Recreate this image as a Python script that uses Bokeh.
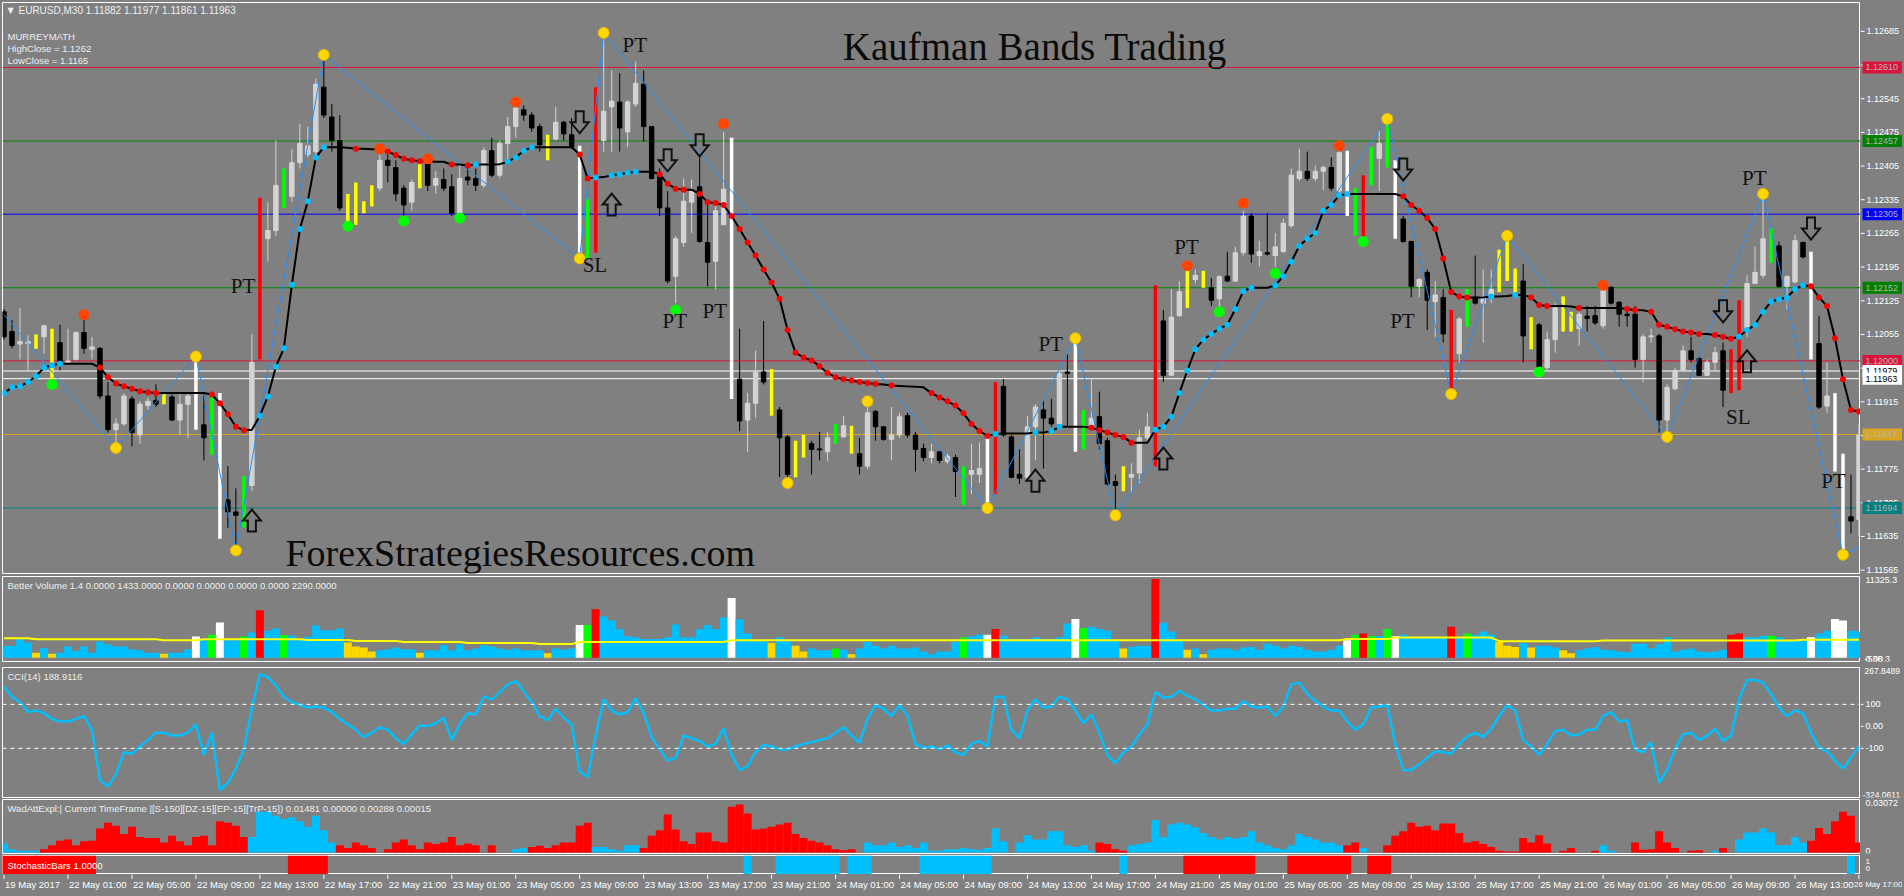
from bokeh.plotting import figure
from bokeh.models import Range1d, Label, LabelSet, ColumnDataSource, Span
from bokeh.layouts import column, row
from bokeh.embed import file_html
from bokeh.resources import INLINE
from bokeh.core.properties import value

# ---------------- DATA (EURUSD M30, prices in points above 1.10000; 1 point = 0.00001) -------------
BASE = 1.10000
PNT = 0.00001

o_pts = [2102,2061,2035,2036,2029,2050,2060,2038,1997,2003,
         2059,2024,2026,1927,1857,1869,1921,1846,1907,1918,
         1912,1925,1877,1910,1927,1867,1840,1920,1711,1686,
         1679,1741,2003,2254,2271,2365,2342,2412,2429,2435,
         2569,2507,2458,2318,2300,2320,2325,2359,2417,2402,
         2359,2330,2371,2412,2365,2377,2362,2307,2382,2379,
         2365,2437,2386,2452,2487,2522,2511,2487,2449,2461,
         2496,2470,2444,2240,2330,2458,2528,2538,2476,2534,
         2575,2487,2386,2318,2176,2246,2330,2362,2246,2207,
         2283,2357,1962,1877,1912,1977,1956,1898,1842,1764,
         1828,1828,1817,1811,1840,1842,1865,1807,1781,1895,
         1863,1837,1846,1886,1846,1818,1799,1811,1791,1799,
         1770,1764,1764,1776,1840,1947,1842,1764,1758,1863,
         1898,1881,1869,1977,1974,1880,1863,1884,1834,1749,
         1741,1758,1767,1840,1863,2083,1970,2094,2144,2169,
         2178,2152,2129,2176,2166,2225,2301,2219,2225,2219,
         2227,2281,2379,2394,2379,2394,2402,2353,2433,2310,
         2350,2370,2421,2452,2410,2295,2248,2155,2184,2123,
         2132,2056,2015,2087,2132,2120,2132,2149,2180,2180,
         2166,2052,2075,1986,2044,2110,2080,2067,2093,2094,
         2073,2153,2122,2097,2097,2003,2050,2052,1877,1942,
         1980,2021,2005,1970,1997,2021,1939,2010,2067,2161,
         2178,2254,2239,2155,2164,2246,2216,2036,1906,1927,
         1790,1676,1670]
h_pts = [2108,2085,2110,2053,2055,2075,2067,2075,2067,2061,
         2085,2050,2029,1956,1881,1933,1927,1916,1924,1951,
         1933,1930,1931,1933,2003,1933,1933,1933,1781,1735,
         1760,2056,2339,2330,2458,2400,2441,2493,2487,2587,
         2633,2534,2511,2347,2371,2332,2365,2429,2429,2417,
         2365,2377,2414,2429,2394,2400,2388,2412,2412,2400,
         2444,2464,2458,2507,2540,2531,2517,2493,2470,2528,
         2499,2505,2447,2336,2569,2680,2604,2598,2542,2622,
         2604,2487,2400,2353,2260,2379,2377,2423,2330,2327,
         2476,2464,2067,1933,2021,2083,1983,1904,1846,1834,
         1846,1834,1852,1852,1869,1886,1865,1840,1904,1898,
         1863,1904,1892,1892,1852,1828,1828,1811,1807,1805,
         1781,1828,1830,1846,1956,1962,1846,1816,1886,1910,
         1916,1921,1980,2015,2050,1898,1962,1936,1840,1764,
         1781,1787,1857,1892,2157,2106,2149,2166,2196,2190,
         2187,2172,2178,2227,2237,2312,2307,2250,2307,2266,
         2295,2400,2441,2435,2406,2406,2423,2437,2437,2359,
         2386,2444,2479,2496,2417,2301,2250,2172,2190,2166,
         2149,2106,2091,2149,2219,2190,2190,2231,2250,2192,
         2201,2091,2079,2061,2120,2134,2102,2102,2114,2114,
         2161,2155,2124,2102,2114,2056,2067,2056,1951,1986,
         2032,2050,2009,2003,2029,2038,2024,2126,2178,2237,
         2347,2277,2248,2178,2262,2248,2227,2094,1997,1933,
         1807,1764,1869]
l_pts = [2044,2026,2003,1980,2025,2015,1945,1980,1997,2001,
         2015,2003,1921,1851,1816,1865,1822,1828,1898,1904,
         1910,1875,1846,1840,1857,1793,1805,1630,1653,1612,
         1653,1729,2003,2207,2260,2318,2330,2400,2423,2423,
         2505,2435,2312,2277,2283,2307,2321,2353,2371,2332,
         2301,2312,2359,2353,2347,2353,2301,2301,2365,2353,
         2359,2382,2380,2417,2464,2499,2476,2435,2417,2458,
         2458,2441,2225,2213,2225,2435,2435,2435,2444,2528,
         2456,2377,2301,2161,2120,2237,2266,2246,2155,2149,
         2283,1921,1854,1811,1881,1951,1886,1758,1758,1758,
         1799,1764,1793,1791,1828,1840,1807,1764,1775,1834,
         1834,1793,1840,1840,1770,1791,1787,1787,1786,1717,
         1700,1723,1746,1694,1723,1842,1756,1744,1756,1793,
         1776,1863,1863,1863,1811,1816,1857,1816,1741,1682,
         1729,1726,1746,1834,1781,1956,1968,2091,2110,2161,
         2152,2114,2110,2164,2164,2219,2204,2196,2219,2196,
         2225,2277,2374,2374,2374,2355,2353,2347,2301,2260,
         2242,2365,2353,2402,2254,2246,2132,2132,2064,2050,
         2038,1933,1997,2071,2117,2038,2120,2143,2166,2137,
         1997,2024,1977,1980,2017,2061,2061,2032,2061,2075,
         2067,2117,2071,2071,1986,1956,2038,1851,1842,1939,
         1977,1997,1968,1968,1980,1904,1933,1939,2050,2161,
         2172,2204,2152,2108,2161,2213,2003,1900,1892,1770,
         1600,1641,1635]
c_pts = [2050,2032,2040,2040,2052,2073,2038,1997,2000,2059,
         2026,2029,1927,1857,1869,1927,1851,1910,1916,1910,
         1930,1877,1910,1927,1990,1840,1920,1711,1686,1679,
         1741,1997,2330,2271,2365,2342,2412,2452,2447,2575,
         2511,2458,2318,2300,2360,2325,2359,2417,2406,2347,
         2324,2371,2412,2365,2379,2359,2307,2379,2376,2365,
         2437,2386,2452,2487,2526,2511,2484,2449,2460,2496,
         2472,2444,2240,2330,2458,2519,2540,2484,2538,2577,
         2487,2379,2318,2166,2254,2332,2353,2248,2205,2312,
         2357,1962,1875,1912,1977,1956,1898,1840,1764,1828,
         1817,1816,1815,1840,1842,1865,1807,1781,1892,1863,
         1837,1846,1884,1846,1816,1799,1811,1793,1802,1770,
         1764,1772,1776,1840,1947,1846,1758,1756,1863,1904,
         1881,1869,1974,1974,1880,1863,1881,1828,1744,1741,
         1758,1764,1840,1863,2083,1970,2091,2144,2169,2178,
         2152,2126,2175,2166,2225,2301,2222,2227,2222,2237,
         2286,2386,2394,2379,2394,2402,2359,2433,2310,2350,
         2260,2440,2452,2410,2295,2248,2155,2169,2126,2137,
         2056,2015,2087,2132,2120,2134,2149,2180,2180,2166,
         2052,2075,1980,2044,2110,2080,2067,2097,2088,2079,
         2155,2120,2097,2094,2003,2050,2052,1877,1945,1980,
         2021,2003,1970,1997,2017,1939,2010,2067,2161,2184,
         2254,2239,2155,2175,2250,2216,2036,1904,1927,1790,
         1676,1667,1846]
kama_pts = [1933,1945,1947,1956,1968,1986,1991,1994,1994,1994,
            1994,1994,1986,1966,1953,1947,1942,1937,1935,1933,
            1933,1933,1933,1933,1933,1933,1930,1912,1889,1863,
            1856,1857,1886,1926,1988,2026,2158,2274,2332,2423,
            2444,2444,2444,2443,2441,2441,2440,2440,2435,2428,
            2420,2417,2415,2415,2414,2414,2408,2408,2406,2408,
            2408,2408,2409,2414,2423,2437,2444,2444,2444,2444,
            2444,2444,2429,2379,2381,2382,2386,2388,2391,2393,
            2393,2393,2388,2368,2358,2356,2356,2347,2330,2328,
            2324,2301,2274,2246,2219,2190,2163,2129,2064,2017,
            2007,2001,1989,1975,1966,1962,1959,1956,1954,1952,
            1951,1949,1948,1947,1946,1945,1933,1924,1916,1907,
            1891,1869,1854,1844,1848,1849,1849,1849,1849,1851,
            1851,1854,1863,1863,1863,1863,1861,1856,1851,1846,
            1842,1830,1830,1830,1857,1863,1884,1933,1980,2024,
            2044,2056,2067,2075,2108,2145,2152,2152,2152,2157,
            2176,2206,2239,2254,2266,2312,2324,2344,2347,2347,
            2347,2347,2347,2347,2347,2342,2324,2312,2297,2274,
            2213,2143,2134,2132,2132,2132,2134,2134,2135,2137,
            2137,2132,2116,2114,2114,2114,2113,2110,2110,2110,
            2110,2110,2110,2108,2106,2105,2102,2075,2071,2066,
            2061,2059,2056,2056,2054,2050,2046,2050,2064,2075,
            2102,2123,2128,2132,2149,2157,2155,2132,2114,2047,
            1962,1898,1895]

# bars painted by Better Volume (also colour of the volume histogram)
mark_yellow = [4,6,20,43,44,45,46,52,68,96,99,100,106,140,148,150,187,188,189,191,195,196]
mark_green = [26,30,35,73,104,120,135,169,171,173,183,221]
mark_red = [32,74,124,144,170,181,216,217]
mark_white = [24,27,72,91,123,134,168,174,226,229,230]

volume = [1640,1640,2560,2100,700,1300,560,700,1540,940,
          1540,700,2240,1860,1540,1540,1160,1020,700,700,
          560,700,700,1160,2940,2420,3180,4900,2420,2420,
          2940,3500,6620,3740,4060,3120,3040,2560,2900,4480,
          3820,3820,4060,2100,1540,1400,840,1020,1160,1400,
          1160,1160,700,1020,1020,1720,1020,1820,1020,1260,
          1720,1540,1260,1100,1260,1020,1020,1020,630,1260,
          1100,1260,4560,4560,6760,5740,5190,4010,2990,2830,
          2600,2600,2600,2830,4640,2830,2830,4010,4560,4010,
          5590,8330,5350,3380,2280,2280,2040,2830,2280,1650,
          860,1260,1020,1020,1260,1100,470,1260,2200,1650,
          1260,1650,1260,1260,1410,860,470,860,860,2200,
          2830,2990,3200,3200,4010,3060,2600,2600,2600,2830,
          2600,2600,2830,4750,5400,4120,4300,4010,3770,2440,
          1260,1480,1650,1650,10960,4860,3660,2440,1100,1260,
          470,1100,1260,1260,1020,1410,1480,1100,1930,1650,
          1260,1650,1480,1100,860,860,1100,1650,2440,3200,
          3380,2990,2990,4010,2990,3200,2830,2830,2830,2830,
          2830,4300,2830,3380,3200,3660,3200,2200,1650,1480,
          2040,1410,1650,1650,1410,1020,630,1020,1260,1480,
          1100,1020,860,750,1930,1930,1260,1860,2830,860,
          1100,1260,860,750,860,1100,3200,3380,2830,2830,
          3060,3060,2830,2440,2440,2440,2830,3380,3770,5400,
          5190,3770,3660]
vol_avg_from = [0,4,20,25,38,44,50,58,67,72,91,168,174,187,200,225]
vol_avg_val = [2700,2560,2420,2560,2470,2330,2190,2040,1890,2200,2440,2590,2800,2300,2400,2500]

cci = [181,135,110,65,72,60,34,22,22,34,47,-16,-244,-274,-219,-118,-125,-92,-62,-29,
       -29,-42,-42,-29,9,-130,-29,-290,-257,-193,-105,85,237,224,186,135,110,97,85,90,
       85,65,34,9,-16,-49,-29,-4,-16,-54,-80,-37,4,1,14,39,-62,9,
       60,54,135,123,156,191,206,161,110,47,27,80,39,9,-206,-231,-42,123,72,54,
       65,128,60,-49,-105,-156,-143,-42,-54,-67,-92,-80,-9,-130,-199,-181,-118,-85,-92,-105,
       -105,-92,-80,-72,-62,-54,-29,-4,-42,-75,34,97,80,47,97,47,-80,-97,
       -92,-105,-87,-118,-130,-80,-67,-92,135,135,-16,-54,72,123,85,90,135,123,72,14,
       54,-29,-130,-168,-118,-92,-37,9,156,130,135,161,140,123,97,72,72,80,80,115,
       90,85,90,47,90,191,199,148,115,90,72,72,22,-16,9,85,90,97,
       -80,-199,-199,-173,-143,-113,-118,-125,-80,-47,-29,-49,-11,47,97,72,-62,-92,-130,-80,
       -21,-16,-42,-37,-16,-16,47,65,22,29,-105,-118,-72,-257,-199,-105,-37,-29,-62,-42,
       -11,-67,-42,123,211,211,199,148,85,47,72,60,-29,-97,-113,-156,-193,-143,-92]

wad = [.0056,.0021,.0011,.0011,.0011,.0021,.0046,.0074,.0081,.0046,
       .0070,.0074,.0151,.0186,.0168,.0116,.0161,.0098,.0091,.0091,
       .0063,.0105,.0070,.0046,.0098,.0105,.0046,.0196,.0186,.0168,
       .0098,.0098,.0256,.0256,.0231,.0210,.0221,.0196,.0161,.0231,
       .0140,.0063,.0046,.0028,.0063,.0046,.0028,0,.0021,.0063,
       .0081,.0046,.0021,.0063,.0053,.0063,.0098,.0046,.0056,.0046,
       0,.0046,0,0,.0021,.0028,.0035,.0042,.0028,.0046,
       .0063,.0063,.0168,.0186,.0035,.0035,.0021,.0011,.0046,.0046,
       .0028,.0105,.0140,.0238,.0144,.0070,.0053,.0126,.0126,.0070,
       .0063,.0287,.0301,.0245,.0144,.0151,.0161,.0175,.0186,.0116,
       .0091,.0074,.0063,.0046,.0021,.0014,.0021,0,.0063,.0046,
       .0046,.0063,.0035,.0046,.0028,.0063,.0011,.0011,.0021,.0021,
       .0028,.0021,.0018,.0028,.0151,.0070,0,.0063,.0109,.0081,
       .0081,.0133,.0133,.0046,.0035,.0046,.0011,.0063,.0053,.0021,
       .0011,.0046,.0053,.0063,.0203,.0098,.0175,.0186,.0175,.0158,
       .0123,.0098,.0081,.0098,.0088,.0098,.0133,.0063,.0046,.0028,
       .0021,.0046,.0116,.0098,.0081,.0063,.0063,.0046,.0046,.0063,
       .0028,0,0,.0046,.0105,.0133,.0186,.0161,.0168,.0140,
       .0182,.0182,.0123,.0063,.0070,.0053,.0035,.0011,.0007,.0007,
       .0091,.0063,.0109,.0056,0,.0011,.0028,0,0,.0011,
       .0046,.0011,0,0,.0063,.0018,.0021,.0133,.0063,.0028,
       0,.0011,.0014,0,.0011,.0028,0,.0081,.0126,.0126,
       .0151,.0126,.0046,.0046,.0098,.0063,.0074,.0154,.0116,.0196,
       .0256,.0231,.0063]
wad_up_spans = [(0,4),(31,41),(64,65),(74,79),(108,125),(127,136),(141,167),(170,170),(200,201),(214,214),(217,225)]

stoch_red_spans = [(0,11),(36,40),(148,156),(161,168),(171,173)]
stoch_blue_spans = [(93,93),(97,104),(106,108),(115,123),(140,140),(231,231)]

zz_bar = [0,14,24,29,40,72,75,123,134,139,173,181,188,208,220,230,232]
zz_pts = [2096,1819,2009,1606,2636,2213,2682,1694,2047,1679,2503,1931,2260,1842,2347,1597,1612]
yellow_bar = [14,24,29,40,72,75,98,108,123,134,139,173,181,188,208,220,230]
yellow_pts = [1819,2009,1606,2636,2213,2682,1746,1916,1694,2047,1679,2503,1931,2260,1842,2347,1597]
orange_bar = [10,47,53,64,90,148,155,167,200]
orange_pts = [2096,2441,2420,2538,2493,2198,2328,2447,2157]
green_bar = [6,43,50,57,84,152,159,170,192]
green_pts = [1951,2280,2291,2297,2106,2102,2182,2248,1977]
arrow_dn_bar = [72,83,87,175,215,226]
arrow_dn_pts = [2496,2417,2448,2398,2103,2275]
arrow_up_bar = [31,76,129,145,218]
arrow_up_pts = [1668,2325,1751,1797,1999]
sig_text = ["PT","PT","SL","PT","PT","PT","PT","PT","PT","SL","PT"]
sig_bar = [29.9,78.9,73.9,83.9,88.9,130.9,147.9,174.9,218.9,216.9,228.8]
sig_pts = [2155,2656,2200,2082,2103,2036,2236,2082,2381,1884,1751]

murrey_levels = [1.12610,1.12457,1.12305,1.12152,1.12000,1.11979,1.11963,1.11847,1.11694]
murrey_colors = ["#dc143c","#008000","#0000ff","#008000","#dc143c","#ffffff","#ffffff","#daa520","#008080"]
price_ticks = [1.12685,1.12615,1.12545,1.12475,1.12405,1.12335,1.12265,1.12195,1.12125,
               1.12055,1.11985,1.11915,1.11845,1.11775,1.11705,1.11635,1.11565]
time_labels = ["19 May 2017",
               "22 May 01:00","22 May 05:00","22 May 09:00","22 May 13:00","22 May 17:00","22 May 21:00",
               "23 May 01:00","23 May 05:00","23 May 09:00","23 May 13:00","23 May 17:00","23 May 21:00",
               "24 May 01:00","24 May 05:00","24 May 09:00","24 May 13:00","24 May 17:00","24 May 21:00",
               "25 May 01:00","25 May 05:00","25 May 09:00","25 May 13:00","25 May 17:00","25 May 21:00",
               "26 May 01:00","26 May 05:00","26 May 09:00","26 May 13:00","26 May 17:00"]

# ---------------- STYLE ----------------
BG = "#808080"
FONT = "Liberation Sans"
SERIF = "Liberation Serif"
FW = 1858          # width of the chart frames
SW = 42            # width of the price-scale strip at the right
LB = 2             # left border
MAIN_H = 571
BULL = "#d3d3d3"
BEAR = "#000000"
SKY = "#00bfff"

N = len(c_pts)
X = list(range(N))
pr = lambda v: BASE + v * PNT
o = [pr(v) for v in o_pts]; h = [pr(v) for v in h_pts]
l = [pr(v) for v in l_pts]; c = [pr(v) for v in c_pts]
kama = [pr(v) for v in kama_pts]

mark = [""] * N
for lst, code in ((mark_yellow, "y"), (mark_green, "g"), (mark_red, "r"), (mark_white, "w")):
    for i in lst:
        mark[i] = code

xr = Range1d(-0.19, N - 1 + 0.19)


def panel(fh, yr, top, bottom, width=FW, x_range=xr, outline="white", left=LB):
    f = figure(frame_width=width, frame_height=fh, x_range=x_range, y_range=yr,
               x_axis_location=None, y_axis_location=None,
               output_backend="svg", toolbar_location=None,
               min_border_left=left, min_border_right=0, min_border_top=top, min_border_bottom=bottom,
               background_fill_color=BG, border_fill_color=BG,
               outline_line_color=outline, outline_line_width=1)
    f.grid.visible = False
    return f


def side(main, fh, top, bottom):
    return panel(fh, main.y_range, top, bottom, width=SW, x_range=Range1d(0, SW), outline=None, left=0)


def lab(fig, x, y, text, xo=0, yo=0, size="10px", color="#efefef", font=FONT, align="left",
        baseline="middle"):
    fig.add_layout(Label(x=x, y=y, x_offset=xo, y_offset=yo, text=text, text_font_size=size,
                         text_color=color, text_font=font, text_align=align,
                         text_baseline=baseline))


def stext(fig, y, text, baseline="middle", x=6, size="9px", color="white"):
    fig.text(x=[x], y=[y], text=[text], text_font=value(FONT), text_font_size=size,
             text_color=color, text_align="left", text_baseline=baseline)


# ---------------- MAIN PANEL ----------------
p = panel(MAIN_H, Range1d(pr(1558), pr(2745)), 2, 1)

for lvl, col in zip(murrey_levels, murrey_colors):
    p.add_layout(Span(location=lvl, dimension="width", line_color=col, line_width=1, level="underlay"))

norm = [i for i in X if mark[i] == ""]
for group, colr in (([i for i in norm if c[i] >= o[i]], BULL), ([i for i in norm if c[i] < o[i]], BEAR)):
    src = ColumnDataSource(dict(x=group, hi=[h[i] for i in group], lo=[l[i] for i in group],
                                top=[max(o[i], c[i]) for i in group],
                                bot=[min(o[i], c[i]) for i in group]))
    p.segment(x0="x", y0="lo", x1="x", y1="hi", source=src, line_color=colr, line_width=1)
    p.vbar(x="x", width=0.55, top="top", bottom="bot", source=src, fill_color=colr,
           line_color=colr, line_width=1)

MARK_COL = {"y": "#ffff00", "g": "#00ff00", "r": "#ff0000", "w": "#ffffff"}
mk = [i for i in X if mark[i] != ""]
msrc = ColumnDataSource(dict(x=mk, hi=[h[i] for i in mk], lo=[l[i] for i in mk],
                             col=[MARK_COL[mark[i]] for i in mk]))
p.segment(x0="x", y0="lo", x1="x", y1="hi", source=msrc, line_color="col", line_width=3.5,
          line_cap="butt")

# zigzag
p.line(zz_bar, [pr(v) for v in zz_pts], line_color="#1e90ff", line_width=1)

# Kaufman adaptive line and its direction dots
p.line(X, kama, line_color="black", line_width=2)
up_x, up_y, dn_x, dn_y = [], [], [], []
for i in X:
    d = (kama_pts[i] - kama_pts[i - 1]) if i > 0 else (kama_pts[1] - kama_pts[0])
    if d > 1.5:
        up_x.append(i); up_y.append(kama[i])
    elif d < -1.5:
        dn_x.append(i); dn_y.append(kama[i])
p.scatter(up_x, up_y, size=6, fill_color=SKY, line_color=None)
p.scatter(dn_x, dn_y, size=6, fill_color="#ff0000", line_color=None)

p.scatter(yellow_bar, [pr(v) for v in yellow_pts], size=11, fill_color="#ffd700", line_color="#e8b800")
p.scatter(orange_bar, [pr(v) for v in orange_pts], size=11, fill_color="#ff4500", line_color=None)
p.scatter(green_bar, [pr(v) for v in green_pts], size=11, fill_color="#00ff00", line_color=None)

# hollow arrows (shape in pixels converted with the figure's own scale factors)
dxp = (xr.end - xr.start) / FW
dyp = (p.y_range.end - p.y_range.start) / MAIN_H
dn_shape = [(-4, 11), (4, 11), (4, 0), (9, 0), (0, -11), (-9, 0), (-4, 0)]
axs, ays = [], []
for b, v in zip(arrow_dn_bar, arrow_dn_pts):
    axs.append([b + sx * dxp for sx, sy in dn_shape]); ays.append([pr(v) + sy * dyp for sx, sy in dn_shape])
for b, v in zip(arrow_up_bar, arrow_up_pts):
    axs.append([b + sx * dxp for sx, sy in dn_shape]); ays.append([pr(v) - sy * dyp for sx, sy in dn_shape])
p.patches(axs, ays, fill_alpha=0, line_color="#111111", line_width=2, line_join="miter")

p.text(x=sig_bar, y=[pr(v) for v in sig_pts], text=sig_text, text_font=value(SERIF),
       text_font_size="21px", text_color="#111111", text_align="center", text_baseline="middle")

# titles
lab(p, 104.9, pr(2653), "Kaufman Bands Trading", size="39px", color="#0a0a0a", font=SERIF,
    baseline="alphabetic")
lab(p, 35.2, pr(1601), "ForexStrategiesResources.com", size="38px", color="#0a0a0a", font=SERIF,
    baseline="alphabetic")

# header texts
lab(p, xr.start, p.y_range.end, "\u25bc", xo=5, yo=-8, size="8px", font="DejaVu Sans")
lab(p, xr.start, p.y_range.end, "EURUSD,M30  1.11882 1.11977 1.11861 1.11963", xo=16, yo=-8)
lab(p, xr.start, p.y_range.end, "MURREYMATH", xo=5, yo=-34, size="9.5px")
lab(p, xr.start, p.y_range.end, "HighClose = 1.1262", xo=5, yo=-46, size="9.5px")
lab(p, xr.start, p.y_range.end, "LowClose = 1.1165", xo=5, yo=-58, size="9.5px")

# price scale strip
sm = side(p, MAIN_H, 2, 1)
sm.segment(x0=0, y0=price_ticks, x1=4, y1=price_ticks, line_color="white", line_width=1)
sm.text(x=6, y=price_ticks, text=[f"{t:.5f}" for t in price_ticks], text_font=value(FONT),
        text_font_size="9px", text_color="white", text_align="left", text_baseline="middle")
for lvl, col in zip(murrey_levels, murrey_colors):
    tc = "#000000" if col == "#ffffff" else "#b4b4b4"
    sm.rect(x=[SW / 2 + 1], y=[lvl], width=SW - 2, height=12, height_units="screen",
            fill_color=col, line_color=None)
    stext(sm, lvl, f"{lvl:.5f}", x=5, color=tc)

# ---------------- BETTER VOLUME ----------------
pv = panel(85, Range1d(-538.3, 11325.3), 2, 3)
VOL_COL = {"": SKY, "y": "#ffd700", "g": "#00ff00", "r": "#ff0000", "w": "#ffffff"}
pv.vbar(x=X, width=1.0, top=volume, bottom=0, fill_color=[VOL_COL[m] for m in mark], line_color=None)
avg = []
for i in X:
    val = vol_avg_val[0]
    for s, vv in zip(vol_avg_from, vol_avg_val):
        if i >= s:
            val = vv
    avg.append(val)
pv.line(X, avg, line_color="#ffff00", line_width=2)
lab(pv, xr.start, pv.y_range.end,
    "Better Volume 1.4 0.0000 1433.0000 0.0000 0.0000 0.0000 0.0000 2290.0000", xo=5, yo=-9, size="9.5px")
sv = side(pv, 85, 2, 3)
stext(sv, 11325.3, "11325.3", baseline="top", x=5)
stext(sv, -538.3, "-538.3", baseline="bottom", x=4)
stext(sv, -538.3, "0.00", baseline="bottom", x=5)

# ---------------- CCI ----------------
pc = panel(130, Range1d(-324.0611, 267.8489), 3, 1)
for lv in (100, -100):
    pc.add_layout(Span(location=lv, dimension="width", line_color="white", line_dash="4 4", line_width=1))
pc.line(X, cci, line_color=SKY, line_width=2.5)
lab(pc, xr.start, pc.y_range.end, "CCI(14) 188.9116", xo=5, yo=-9, size="9.5px")
sc = side(pc, 130, 3, 1)
sc.segment(x0=0, y0=[100, 0, -100], x1=3, y1=[100, 0, -100], line_color="white")
stext(sc, 267.8489, "267.8489", baseline="top", x=4, size="8.5px")
stext(sc, 100, "100", x=5)
stext(sc, 0, "0.00", x=5)
stext(sc, -100, "-100", x=5)
stext(sc, -324.0611, "-324.0611", baseline="bottom", x=2, size="8.5px")

# ---------------- WADDAH ATTAR EXPLOSION ----------------
pw = panel(54, Range1d(-0.0006, 0.0332), 1, 1)
wcol = ["#ff0000"] * N
for s, e in wad_up_spans:
    for i in range(s, e + 1):
        wcol[i] = SKY
pw.vbar(x=X, width=1.0, top=wad, bottom=0, fill_color=wcol, line_color=None)
lab(pw, xr.start, pw.y_range.end,
    "WadAttExpl:| Current TimeFrame |[S-150][DZ-15][EP-15][TrP-15]) 0.01481 0.00000 0.00288 0.00015",
    xo=5, yo=-9, size="9.5px")
sw_ = side(pw, 54, 1, 1)
stext(sw_, 0.0332, "0.03072", baseline="top", x=5)
stext(sw_, -0.0006, "0", baseline="bottom", x=5)

# ---------------- STOCHASTIC BARS ----------------
ps = panel(19, Range1d(0, 1), 1, 0)
for spans, colr in ((stoch_red_spans, "#ff0000"), (stoch_blue_spans, SKY)):
    ps.quad(left=[s - 0.5 for s, e in spans], right=[e + 0.5 for s, e in spans],
            bottom=0, top=1, fill_color=colr, line_color=None)
lab(ps, xr.start, 0.5, "StochasticBars 1.0000", xo=5, size="9.5px", color="#ffffff")
ss = side(ps, 19, 1, 0)
stext(ss, 0.7, "1", x=5, size="8px")
stext(ss, 0.3, "0", x=5, size="8px")

# ---------------- TIME AXIS ----------------
txr = Range1d(xr.start, xr.end + SW * dxp)
pt = panel(20, Range1d(0, 1), 0, 0, width=FW + SW, x_range=txr, outline=None)
tick_x = list(range(0, N, 8))
pt.segment(x0=tick_x, y0=1, x1=tick_x, y1=0.78, line_color="white", line_width=1)
tsrc = ColumnDataSource(dict(x=tick_x[:-1], y=[0.5] * (len(tick_x) - 1), t=time_labels[:-1]))
pt.add_layout(LabelSet(x="x", y="y", text="t", source=tsrc, x_offset=1, text_align="left",
                       text_baseline="middle", text_color="white", text_font=value(FONT),
                       text_font_size="9.5px"))
# last label kept fully inside the window
lab(pt, txr.end, 0.5, time_labels[-1], xo=0, size="8px", color="white", align="right")

layout = column(row(p, sm), row(pv, sv), row(pc, sc), row(pw, sw_), row(ps, ss), pt, spacing=0)
html = file_html(layout, INLINE, title="Kaufman Bands Trading")
html = html.replace("</head>", "<style>body{background:#808080;}</style></head>", 1)
open("out.html", "w").write(html)
